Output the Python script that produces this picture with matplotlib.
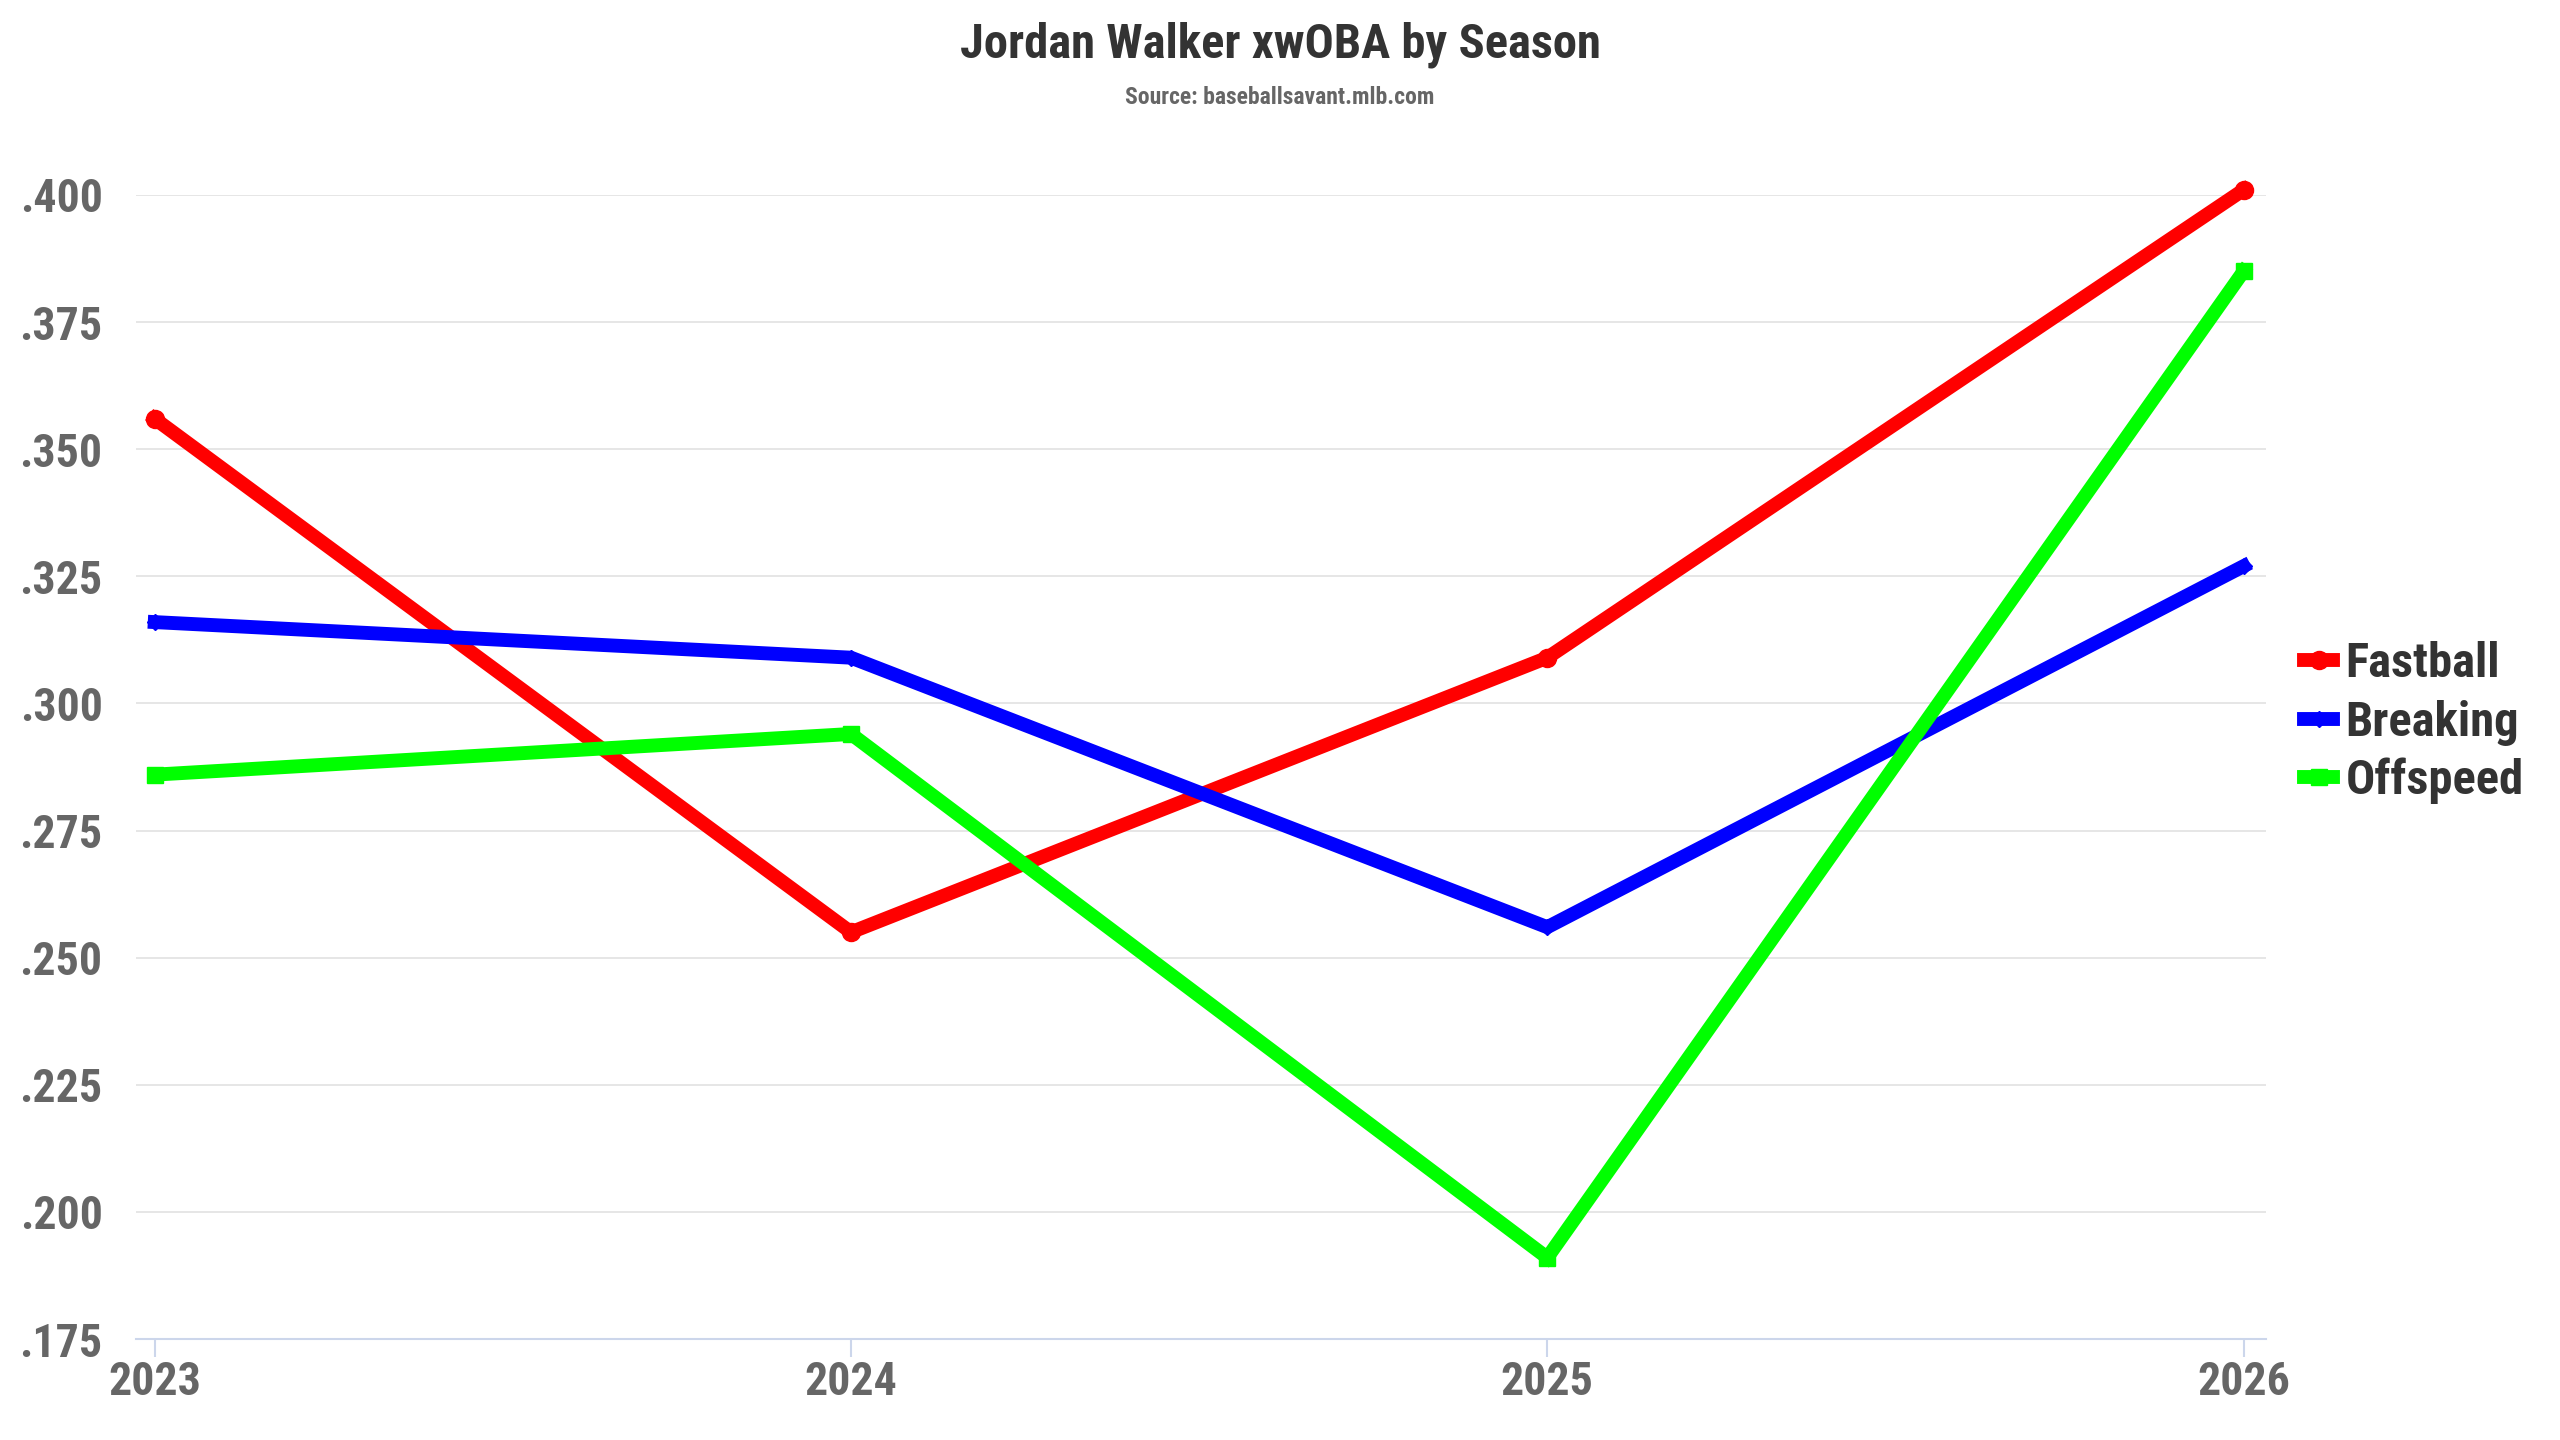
import matplotlib
import matplotlib.pyplot as plt
from matplotlib.ticker import FixedLocator, FuncFormatter

matplotlib.use("Agg")

# data
seasons = [2023, 2024, 2025, 2026]
fastball = [0.356, 0.255, 0.309, 0.401]
breaking = [0.316, 0.309, 0.256, 0.327]
offspeed = [0.286, 0.294, 0.191, 0.385]
y_ticks = [0.175, 0.200, 0.225, 0.250, 0.275, 0.300, 0.325, 0.350, 0.375, 0.400]

series = [
    ("Fastball", fastball, "#ff0000", "o", 13),
    ("Breaking", breaking, "#0000ff", "D", 8),
    ("Offspeed", offspeed, "#00ff00", "s", 11),
]

plt.rcParams["font.family"] = ["Roboto Condensed", "Roboto", "DejaVu Sans"]
plt.rcParams["font.weight"] = "bold"
plt.rcParams["font.stretch"] = "condensed"

fig = plt.figure(figsize=(25.6, 14.4), dpi=100)
ax = fig.add_axes([0.0531, 0.0701, 0.832, 0.7945])

for name, vals, color, marker, ms in series:
    ax.plot(seasons, vals, color=color, lw=10, marker=marker, ms=ms,
            label=name, clip_on=False, solid_joinstyle="miter", zorder=3)

ax.set_xlim(2022.973, 2026.032)
ax.set_ylim(0.175, 0.400)
ax.yaxis.set_major_locator(FixedLocator(y_ticks))
ax.yaxis.set_major_formatter(FuncFormatter(lambda v, _: f"{v:.3f}"[1:]))
ax.xaxis.set_major_locator(FixedLocator(seasons))
ax.xaxis.set_major_formatter(FuncFormatter(lambda v, _: f"{int(round(v))}"))

ax.grid(axis="y", color="#e6e6e6", lw=1.4, zorder=0)
for side in ["top", "right", "left"]:
    ax.spines[side].set_visible(False)
ax.spines["bottom"].set_color("#ccd6eb")
ax.spines["bottom"].set_linewidth(1.5)

ax.tick_params(axis="y", length=0, pad=24, labelsize=33, labelcolor="#666666")
ax.tick_params(axis="x", length=13, width=1.5, color="#ccd6eb", pad=2,
               labelsize=33, labelcolor="#666666", direction="out")

fig.text(0.5, 0.969, "Jordan Walker xwOBA by Season", ha="center", va="center",
         fontsize=35, color="#333333", fontweight="bold")
fig.text(0.5, 0.932, "Source: baseballsavant.mlb.com", ha="center", va="center",
         fontsize=17, color="#666666", fontweight="bold")

leg = ax.legend(loc="center left", bbox_to_anchor=(0.9, 0.498),
                bbox_transform=fig.transFigure, frameon=False, fontsize=35,
                handlelength=0.6, handletextpad=0.25, labelspacing=0.25,
                borderpad=0, borderaxespad=0)
for t in leg.get_texts():
    t.set_color("#333333")
    t.set_fontweight("bold")

fig.savefig("out.png", dpi=100, facecolor="white")
